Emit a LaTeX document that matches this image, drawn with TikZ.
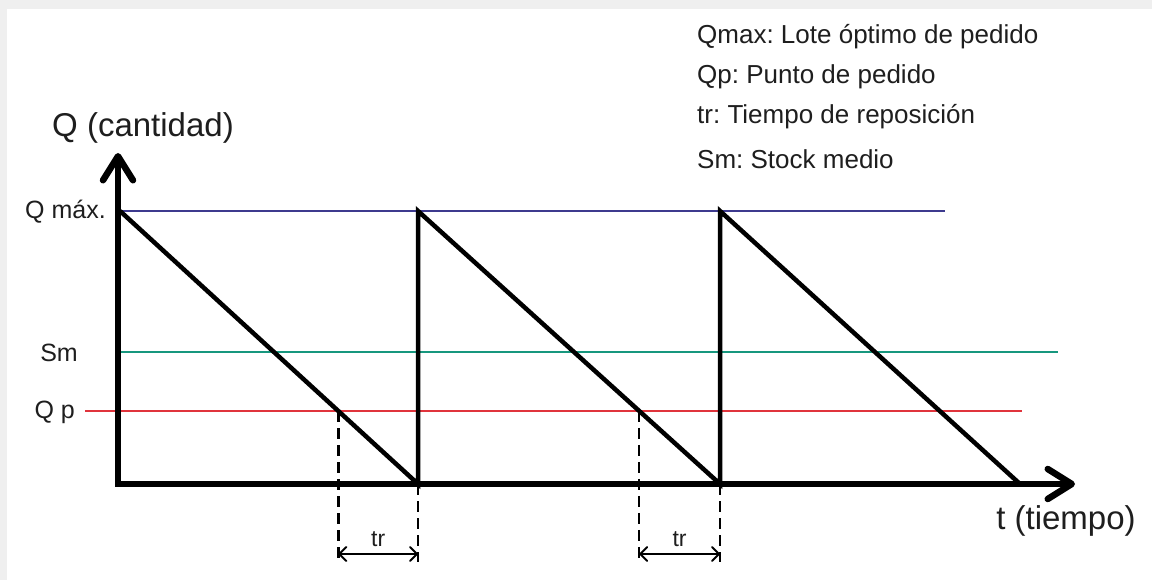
\documentclass[tikz,border=0pt]{standalone}
\usepackage{fontspec}
\setmainfont{Liberation Sans}
\usetikzlibrary{arrows.meta,calc}
\definecolor{qmaxc}{HTML}{3D3A8E}
\definecolor{smc}{HTML}{17977E}
\definecolor{qpc}{HTML}{E0343C}
\definecolor{framec}{HTML}{EFEFEF}
\definecolor{txtc}{HTML}{1E1E1E}
\frenchspacing
\begin{document}
\begin{tikzpicture}[x=1pt,y=-1pt,
  axis/.style={line width=6.5pt, line join=miter, {Straight Barb[length=24pt,width=30pt,round]}-{Straight Barb[length=24pt,width=30pt,round]}},
  saw/.style={line width=4.5pt, line join=miter},
  levelline/.style={line width=2.2pt},
  guide/.style={line width=2.4pt, dash pattern=on 11pt off 6pt},
  trarrow/.style={line width=2pt, {Straight Barb[length=7pt,width=14pt,round]}-{Straight Barb[length=7pt,width=14pt,round]}},
  lbl/.style={text=txtc, inner sep=0pt, font=\fontsize{25}{30}\selectfont},
  biglbl/.style={text=txtc, inner sep=0pt, font=\fontsize{33}{40}\selectfont},
  leg/.style={text=txtc, inner sep=0pt, anchor=west, font=\fontsize{26}{30}\selectfont}]
\fill[framec] (0,0) rectangle (1152,580);
\fill[white] (7,9) rectangle (1152,580);
\useasboundingbox (0,0) rectangle (1152,580);

% key points
\coordinate (O) at (118,484);
\coordinate (Ytop) at (118,153);
\coordinate (Xend) at (1075,484);
\coordinate (A1) at (120,211);
\coordinate (B1) at (418,484);
\coordinate (A2) at (418,211);
\coordinate (B2) at (720,484);
\coordinate (A3) at (720,211);
\coordinate (B3) at (1020,484);
\coordinate (QmaxR) at (945,211);
\coordinate (SmL) at (118,352);
\coordinate (SmR) at (1058,352);
\coordinate (QpL) at (85,411);
\coordinate (QpR) at (1022,411);

% level lines
\draw[levelline, qmaxc] (A1) -- (QmaxR);
\draw[levelline, smc] (SmL) -- (SmR);
\draw[levelline, qpc] (QpL) -- (QpR);

% sawtooth
\draw[saw] (A1) -- (B1) -- (A2) -- (B2) -- (A3) -- (B3);

% axes
\draw[axis] (Ytop) -- (O) -- (Xend);

% reorder points
\coordinate (P1) at (intersection of A1--B1 and QpL--QpR);
\coordinate (P2) at (intersection of A2--B2 and QpL--QpR);

% dashed guides
\coordinate (B1d) at (418,562);
\coordinate (B2d) at (720,562);
\draw[guide] (P1) -- (P1 |- B1d);
\draw[guide] (B1) -- (B1d);
\draw[guide] (P2) -- (P2 |- B2d);
\draw[guide] (B2) -- (B2d);

\coordinate (T1a) at (P1 |- 0,554);
\coordinate (T1b) at (B1 |- 0,554);
\coordinate (T2a) at (P2 |- 0,554);
\coordinate (T2b) at (B2 |- 0,554);
\draw[trarrow] (T1a) -- (T1b);
\draw[trarrow] (T2a) -- (T2b);
\node[text=txtc, inner sep=0pt, font=\fontsize{23}{27}\selectfont] (tr1) at ($(T1a)!0.5!(T1b)+(0,-15)$) {tr};
\node[text=txtc, inner sep=0pt, font=\fontsize{23}{27}\selectfont] (tr2) at ($(T2a)!0.5!(T2b)+(0,-15)$) {tr};

% axis labels
\node[biglbl] (qlab) at (143,128) {Q (cantidad)};
\node[biglbl] (tlab) at (1066,521) {t (tiempo)};
\node[lbl, anchor=east] (qmaxlab) at (106,212) {Q máx.};
\node[lbl] (smlab) at (59,353) {Sm};
\node[lbl, anchor=east] (qplab) at (75,412) {Q p};

% legend
\node[leg] (l1) at (697,37) {Qmax: Lote óptimo de pedido};
\node[leg] (l2) at (697,77) {Qp: Punto de pedido};
\node[leg] (l3) at (697,117) {tr: Tiempo de reposición};
\node[leg] (l4) at (697,159) {Sm: Stock medio};
\end{tikzpicture}
\end{document}
